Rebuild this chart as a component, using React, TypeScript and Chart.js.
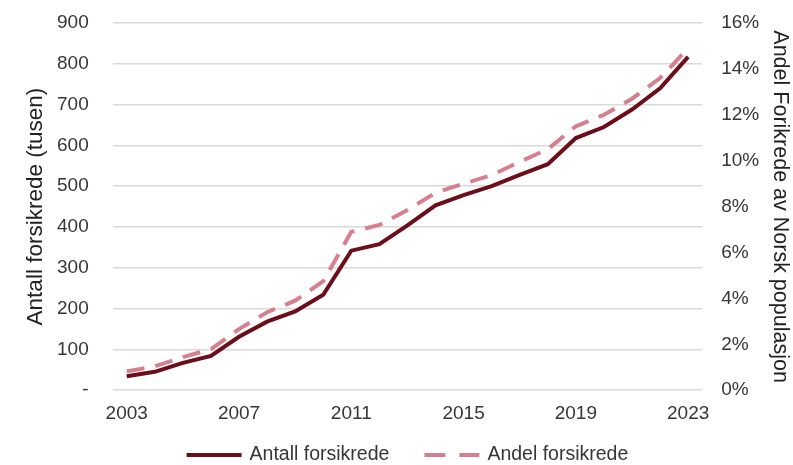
import React, { useEffect, useRef } from "react";
import { Chart, registerables } from "chart.js";

Chart.register(...registerables);

const years: string[] = [
  "2003", "2004", "2005", "2006", "2007", "2008", "2009", "2010", "2011", "2012",
  "2013", "2014", "2015", "2016", "2017", "2018", "2019", "2020", "2021", "2022", "2023",
];

// Antall forsikrede (tusen)
const antallForsikrede: number[] = [
  34, 45, 67, 84, 131, 168, 193, 234, 342, 358,
  404, 453, 478, 500, 528, 554, 618, 645, 688, 740, 817,
];

// Andel forsikrede (share of population)
const andelForsikrede: number[] = [
  0.0082, 0.0104, 0.0144, 0.0179, 0.0266, 0.0340, 0.0390, 0.0475, 0.0690, 0.0720,
  0.0785, 0.0860, 0.0900, 0.0937, 0.0995, 0.1050, 0.1150, 0.1200, 0.1270, 0.1360, 0.1490,
];

const leftTicks = { min: 0, max: 900, step: 100 };
const rightTicks = { min: 0, max: 0.16, step: 0.02 };

const FONT = "'Liberation Sans', Arial, Helvetica, sans-serif";
const TEXT = "#363636";
const SOLID = "#6b0e19";
const DASHED = "#d6808f";

const bottomLegend = {
  id: "bottomLegend",
  afterDraw(chart: any) {
    const ctx = chart.ctx as CanvasRenderingContext2D;
    const area = chart.chartArea;
    const lineW = 55;
    const gapText = 8;
    const gapItems = 35;
    const y = 455;
    ctx.save();
    ctx.font = `19.5px ${FONT}`;
    const items = chart.data.datasets.map((d: any, i: number) => ({
      label: d.label as string,
      color: d.borderColor as string,
      dash: i === 1 ? [21, 14] : [],
      w: ctx.measureText(d.label).width,
    }));
    const total =
      items.reduce((s: number, it: any) => s + lineW + gapText + it.w, 0) +
      gapItems * (items.length - 1);
    let x = (area.left + area.right) / 2 - total / 2;
    for (const it of items) {
      ctx.beginPath();
      ctx.setLineDash(it.dash);
      ctx.strokeStyle = it.color;
      ctx.lineWidth = 4;
      ctx.lineCap = "butt";
      ctx.moveTo(x, y);
      ctx.lineTo(x + lineW, y);
      ctx.stroke();
      ctx.setLineDash([]);
      ctx.fillStyle = TEXT;
      ctx.textBaseline = "middle";
      ctx.textAlign = "left";
      ctx.fillText(it.label, x + lineW + gapText, y);
      x += lineW + gapText + it.w + gapItems;
    }
    ctx.restore();
  },
};

export default function App() {
  const ref = useRef<HTMLCanvasElement | null>(null);

  useEffect(() => {
    if (!ref.current) return;
    const chart = new Chart(ref.current, {
      type: "line",
      data: {
        labels: years,
        datasets: [
          {
            label: "Antall forsikrede",
            data: antallForsikrede,
            yAxisID: "y",
            borderColor: SOLID,
            backgroundColor: SOLID,
            borderWidth: 4,
            pointRadius: 0,
            tension: 0,
          },
          {
            label: "Andel forsikrede",
            data: andelForsikrede,
            yAxisID: "y1",
            borderColor: DASHED,
            backgroundColor: DASHED,
            borderWidth: 4,
            borderDash: [18, 11],
            pointRadius: 0,
            tension: 0,
          },
        ],
      },
      options: {
        responsive: false,
        animation: false,
        layout: { padding: { top: 23, left: 22, right: 0, bottom: 28 } },
        plugins: {
          tooltip: { enabled: false },
          legend: { display: false },
        },
        scales: {
          x: {
            offset: true,
            grid: { display: false, drawTicks: false },
            border: { display: false },
            ticks: {
              autoSkip: false,
              maxRotation: 0,
              padding: 12,
              color: TEXT,
              font: { family: FONT, size: 19 },
              callback: function (_v: any, i: number) {
                return i % 4 === 0 ? years[i] : "";
              },
            },
          },
          y: {
            position: "left",
            min: leftTicks.min,
            max: leftTicks.max,
            grid: {
              color: "#d9d9d9",
              lineWidth: 1.5,
              drawTicks: true,
              tickLength: 16,
              tickColor: "rgba(0,0,0,0)",
            },
            border: { display: false },
            ticks: {
              stepSize: leftTicks.step,
              padding: 8,
              color: TEXT,
              font: { family: FONT, size: 19 },
              callback: (v: any) => (Number(v) === 0 ? "-" : String(v)),
            },
            title: {
              display: true,
              text: "Antall forsikrede (tusen)",
              color: "#222",
              font: { family: FONT, size: 22.5 },
              padding: { top: 0, bottom: 0 },
            },
          },
          y1: {
            position: "right",
            min: rightTicks.min,
            max: rightTicks.max,
            grid: {
              display: true,
              drawOnChartArea: false,
              drawTicks: true,
              tickLength: 11,
              tickColor: "rgba(0,0,0,0)",
            },
            border: { display: false },
            ticks: {
              stepSize: rightTicks.step,
              padding: 8,
              color: TEXT,
              font: { family: FONT, size: 19 },
              callback: (v: any) => Math.round(Number(v) * 100) + "%",
            },
            title: {
              display: true,
              text: "Andel Forikrede av Norsk populasjon",
              color: "#222",
              font: { family: FONT, size: 21.5 },
              padding: { top: 0, bottom: 0 },
            },
          },
        },
      },
      plugins: [bottomLegend],
    });
    return () => chart.destroy();
  }, []);

  return (
    <div style={{ position: "absolute", left: 0, top: 0, width: 793, height: 465, background: "#fff" }}>
      <canvas ref={ref} width={793} height={465} />
    </div>
  );
}
